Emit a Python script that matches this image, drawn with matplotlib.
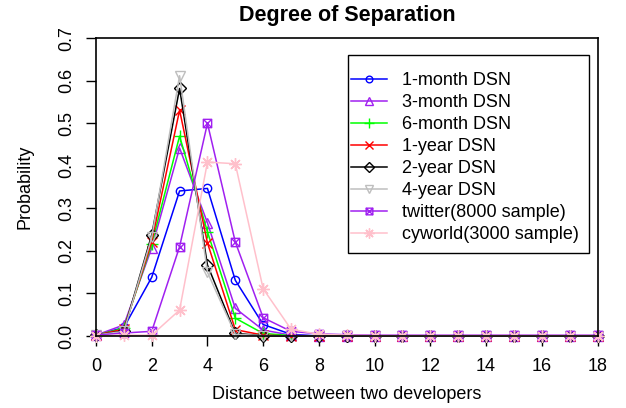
import matplotlib
matplotlib.use("Agg")
import matplotlib.pyplot as plt
from matplotlib.path import Path
from matplotlib.patches import Rectangle
import numpy as np

plt.rcParams['font.family'] = ['Liberation Sans', 'DejaVu Sans']

distance = list(range(19))
tail = [0.0] * 11

m1 = [0.002, 0.02, 0.138, 0.341, 0.347, 0.131, 0.027, 0.004] + tail
m3 = [0.002, 0.026, 0.207, 0.442, 0.266, 0.065, 0.014, 0.002] + tail
m6 = [0.002, 0.018, 0.216, 0.470, 0.245, 0.042, 0.006, 0.001] + tail
y1 = [0.002, 0.016, 0.222, 0.531, 0.219, 0.015, 0.002, 0.0] + tail
y2 = [0.002, 0.012, 0.238, 0.582, 0.167, 0.006, 0.001, 0.0] + tail
y4 = [0.002, 0.011, 0.232, 0.612, 0.150, 0.004, 0.001, 0.0] + tail
twitter = [0.002, 0.007, 0.011, 0.210, 0.500, 0.221, 0.043, 0.011, 0.005,
           0.003, 0.002, 0.002, 0.002, 0.002, 0.002, 0.002, 0.002, 0.002, 0.002]
cyworld = [0.0, 0.002, 0.002, 0.061, 0.409, 0.405, 0.111, 0.016, 0.004,
           0.002, 0.001, 0.001, 0.001, 0.001, 0.001, 0.001, 0.001, 0.001, 0.001]

labels = ["1-month DSN", "3-month DSN", "6-month DSN", "1-year DSN",
          "2-year DSN", "4-year DSN", "twitter(8000 sample)", "cyworld(3000 sample)"]
colors = ["#0000FF", "#A020F0", "#00FF00", "#FF0000", "#000000", "#BEBEBE",
          "#A020F0", "#FFC0CB"]
series = [m1, m3, m6, y1, y2, y4, twitter, cyworld]

# square with x marker (R pch 7)
sqx = Path([(-1, -1), (1, -1), (1, 1), (-1, 1), (-1, -1),
            (-1, -1), (1, 1), (-1, 1), (1, -1)],
           [Path.MOVETO, Path.LINETO, Path.LINETO, Path.LINETO, Path.CLOSEPOLY,
            Path.MOVETO, Path.LINETO, Path.MOVETO, Path.LINETO])
markers = ['o', '^', '+', 'x', 'D', 'v', sqx, (8, 2, 0)]
msizes = [6, 7.5, 9, 7, 6, 7.5, 6, 9]

W, H = 626, 408
fig = plt.figure(figsize=(W / 100, H / 100), dpi=100)
ax = fig.add_axes([96 / W, 1 - 336 / H, (597.5 - 96) / W, (336 - 38.3) / H])

for s, lab, c, mk, ms in zip(series, labels, colors, markers, msizes):
    ax.plot(distance, s, color=c, lw=1.1, marker=mk, markersize=ms,
            markerfacecolor='none', markeredgecolor=c, markeredgewidth=1.0,
            label=lab, clip_on=False)

FS = 13
ax.set_xlim(0, 18)
ax.set_ylim(0, 0.7)
ax.set_xticks(np.arange(0, 19, 2))
ax.set_yticks(np.arange(0, 0.71, 0.1))
ax.set_yticklabels([f"{v:.1f}" for v in np.arange(0, 0.71, 0.1)],
                   rotation=90, va='center')
ax.tick_params(axis='both', direction='out', length=7, width=1, labelsize=FS)
ax.tick_params(axis='x', pad=8.6)
ax.tick_params(axis='y', pad=8)
for sp in ax.spines.values():
    sp.set_linewidth(1.2)

ax.set_xlabel("Distance between two developers", fontsize=FS, labelpad=8)
ax.set_ylabel("Probability", fontsize=FS, labelpad=18)
fig.text(347 / W, 1 - 15 / H, "Degree of Separation", ha='center', va='center',
         fontsize=15.5, fontweight='bold')

leg = fig.legend(*ax.get_legend_handles_labels(), loc='upper left',
                 bbox_to_anchor=(351 / W, 1 - 72 / H),
                 fontsize=FS, frameon=False,
                 handlelength=2.0, handletextpad=0.85, labelspacing=0.28,
                 borderpad=0, borderaxespad=0)
for h in leg.get_lines():
    h.set_markersize(h.get_markersize() * 0.8)
fig.add_artist(Rectangle((348 / W, 1 - 253 / H), (589 - 348) / W, (253 - 55) / H,
                         transform=fig.transFigure, fill=False,
                         edgecolor='black', linewidth=1.0))

fig.savefig("out.png", dpi=100)
